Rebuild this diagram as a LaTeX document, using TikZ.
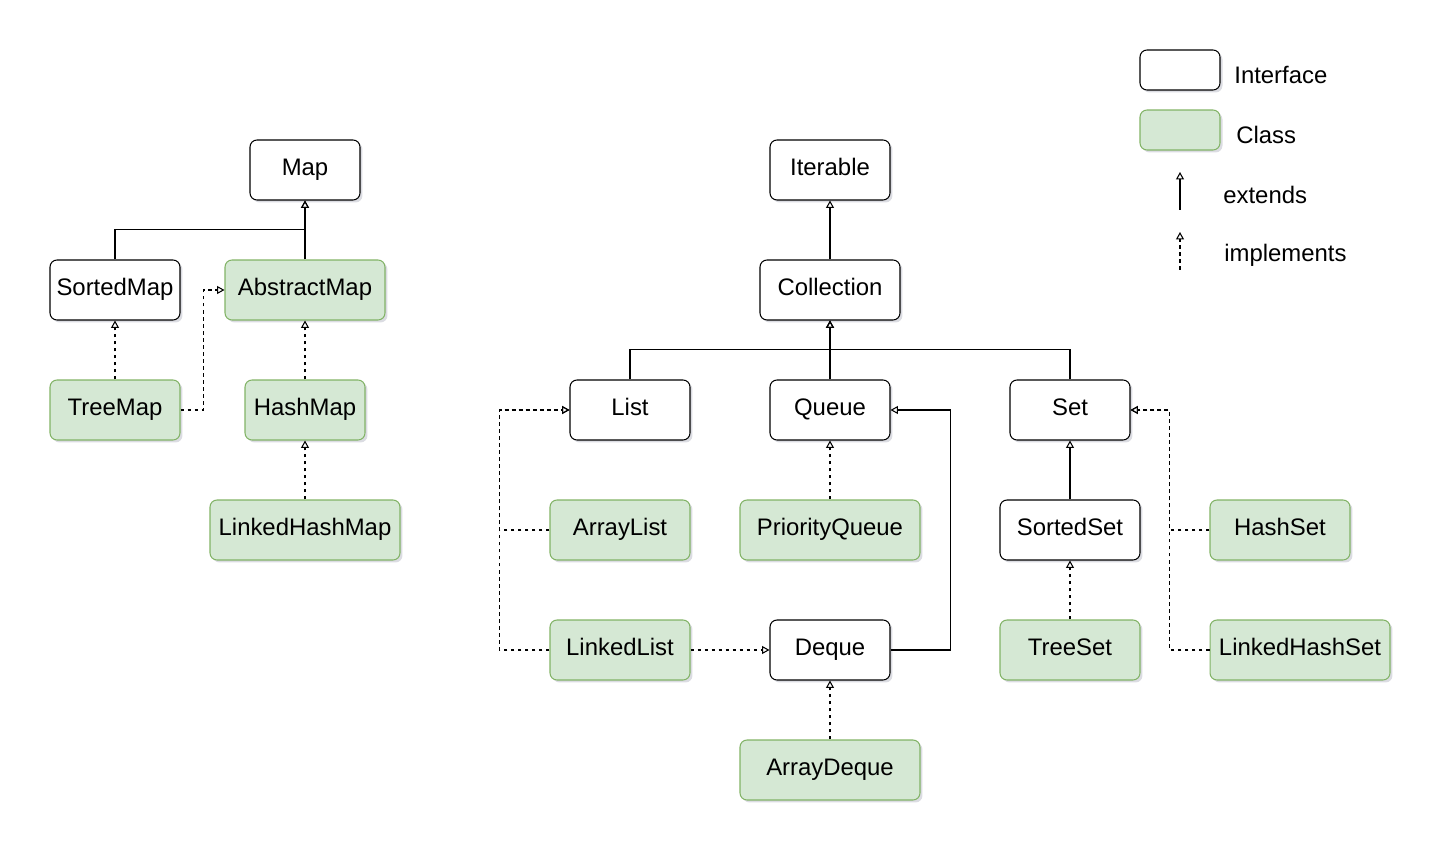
\documentclass[tikz,border=0pt]{standalone}
\usepackage{fontspec}
\setmainfont{Liberation Sans}
\usetikzlibrary{arrows.meta,shadows}
\definecolor{classfill}{HTML}{D5E8D4}
\definecolor{classline}{HTML}{82B366}
\definecolor{shadowcol}{HTML}{5A5F7A}
\begin{document}
\begin{tikzpicture}[x=0.02cm, y=-0.02cm,
    box/.style={draw, rounded corners=0.14cm, minimum height=1.2cm, inner sep=0pt, line width=0.6pt,
        font=\fontsize{13.6}{16}\selectfont, text height=0.84em, text depth=0.21em,
        drop shadow={shadow xshift=0.05cm, shadow yshift=-0.05cm, opacity=0.22, fill=shadowcol}},
    iface/.style={box, fill=white, draw=black},
    cls/.style={box, fill=classfill, draw=classline},
    ext/.style={-{Triangle[open, length=4.2pt, width=4.5pt]}, line width=0.6pt},
    impl/.style={ext, dash pattern=on 2pt off 2pt},
    lbl/.style={anchor=west, inner sep=0pt, font=\fontsize{13.6}{16}\selectfont}]
    \useasboundingbox (0,0) rectangle (1448,858);

    % Map hierarchy
    \node[iface, minimum width=2.2cm] (map) at (305,170) {Map};
    \node[iface, minimum width=2.6cm] (sortedmap) at (115,290) {SortedMap};
    \node[cls, minimum width=3.2cm] (abstractmap) at (305,290) {AbstractMap};
    \node[cls, minimum width=2.6cm] (treemap) at (115,410) {TreeMap};
    \node[cls, minimum width=2.4cm] (hashmap) at (305,410) {HashMap};
    \node[cls, minimum width=3.8cm] (linkedhashmap) at (305,530) {LinkedHashMap};

    \draw[ext] (sortedmap.north) -- ++(0,-30) -| (map.south);
    \draw[ext] (abstractmap.north) -- (map.south);
    \draw[impl] (treemap.north) -- (sortedmap.south);
    \draw[impl] (treemap.east) -- ++(23,0) |- (abstractmap.west);
    \draw[impl] (hashmap.north) -- (abstractmap.south);
    \draw[impl] (linkedhashmap.north) -- (hashmap.south);

    % Collection hierarchy
    \node[iface, minimum width=2.4cm] (iterable) at (830,170) {Iterable};
    \node[iface, minimum width=2.8cm] (collection) at (830,290) {Collection};
    \node[iface, minimum width=2.4cm] (list) at (630,410) {List};
    \node[iface, minimum width=2.4cm] (queue) at (830,410) {Queue};
    \node[iface, minimum width=2.4cm] (set) at (1070,410) {Set};
    \node[cls, minimum width=2.8cm] (arraylist) at (620,530) {ArrayList};
    \node[cls, minimum width=3.6cm] (priorityqueue) at (830,530) {PriorityQueue};
    \node[iface, minimum width=2.8cm] (sortedset) at (1070,530) {SortedSet};
    \node[cls, minimum width=2.8cm] (hashset) at (1280,530) {HashSet};
    \node[cls, minimum width=2.8cm] (linkedlist) at (620,650) {LinkedList};
    \node[iface, minimum width=2.4cm] (deque) at (830,650) {Deque};
    \node[cls, minimum width=2.8cm] (treeset) at (1070,650) {TreeSet};
    \node[cls, minimum width=3.6cm] (linkedhashset) at (1300,650) {LinkedHashSet};
    \node[cls, minimum width=3.6cm] (arraydeque) at (830,770) {ArrayDeque};

    \draw[ext] (collection.north) -- (iterable.south);
    \draw[ext] (list.north) -- ++(0,-30) -| (collection.south);
    \draw[ext] (queue.north) -- (collection.south);
    \draw[ext] (set.north) -- ++(0,-30) -| (collection.south);
    \draw[impl] (arraylist.west) -- ++(-50,0) |- (list.west);
    \draw[impl] (linkedlist.west) -- ++(-50,0) |- (list.west);
    \draw[impl] (priorityqueue.north) -- (queue.south);
    \draw[impl] (linkedlist.east) -- (deque.west);
    \draw[ext] (deque.east) -- ++(60,0) |- (queue.east);
    \draw[impl] (arraydeque.north) -- (deque.south);
    \draw[ext] (sortedset.north) -- (set.south);
    \draw[impl] (treeset.north) -- (sortedset.south);
    \draw[impl] (hashset.west) -- ++(-40,0) |- (set.east);
    \draw[impl] (linkedhashset.west) -- ++(-40,0) |- (set.east);

    % Legend
    \node[iface, minimum width=1.6cm, minimum height=0.8cm] (legiface) at (1180,70) {};
    \node[lbl] (legifacetxt) at (1234,75) {Interface};
    \node[cls, minimum width=1.6cm, minimum height=0.8cm] (legcls) at (1180,130) {};
    \node[lbl] (legclstxt) at (1236,135) {Class};
    \coordinate (extbot) at (1180,210);
    \coordinate (exttop) at (1180,172);
    \draw[ext] (extbot) -- (exttop);
    \node[lbl] (legexttxt) at (1223,195) {extends};
    \coordinate (implbot) at (1180,270);
    \coordinate (impltop) at (1180,232);
    \draw[impl] (implbot) -- (impltop);
    \node[lbl] (legimpltxt) at (1224,255) {implements};
\end{tikzpicture}
\end{document}
